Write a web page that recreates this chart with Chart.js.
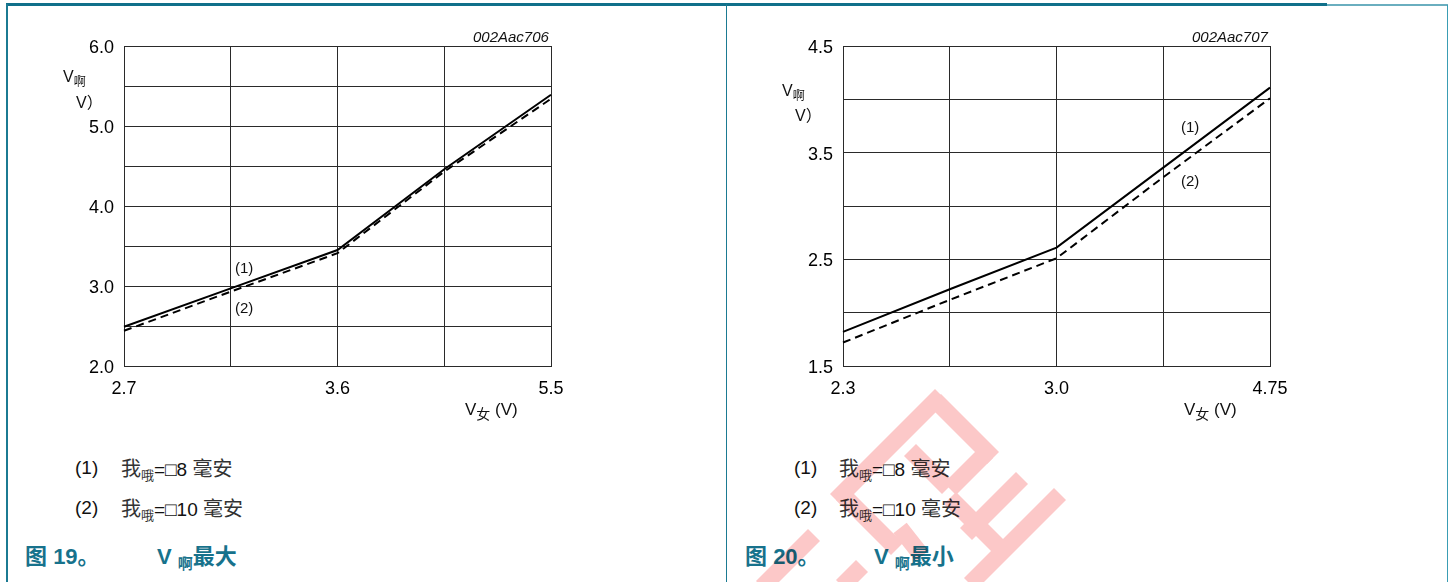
<!DOCTYPE html>
<html>
<head>
<meta charset="utf-8">
<script src="https://cdn.jsdelivr.net/npm/chart.js@4/dist/chart.umd.min.js"></script>
<style>
    html, body { margin: 0; padding: 0; background: #fff; }
    body { width: 1450px; height: 582px; position: relative; overflow: hidden;
           font-family: "Liberation Sans", Arial, "Noto Sans CJK SC", sans-serif; color: #111; }
    .abs { position: absolute; white-space: nowrap; }
    .rule { position: absolute; }
    canvas.chart { position: absolute; top: 0; }
    .code { font-style: italic; font-size: 15px; line-height: 15px; }
    .ttl { font-size: 16px; line-height: 16px; }
    .cjk { font-family: "Noto Sans CJK SC", sans-serif; }
    .sub { font-size: 12px; position: relative; top: 4px; }
    .curve { font-size: 15px; line-height: 15px; }
    .note { font-size: 19px; line-height: 20px; }
    .note .cjk { color: #333; font-size: 20px; }
    .note .cjk.sub { font-size: 13px; }
    .cap { font-size: 22px; line-height: 22px; font-weight: bold; color: #17728c; }
    .cap .sub { font-size: 15px; top: 5px; }
    #mark { position: absolute; left: 0; top: 0; mix-blend-mode: multiply; pointer-events: none; }
</style>
</head>
<body>
<!-- page frame -->
<div class="rule" style="left:6px;top:3px;width:1321px;height:3px;background:#10708a"></div>
<div class="rule" style="left:1327px;top:4px;width:121px;height:2px;background:#6aaebf"></div>
<div class="rule" style="left:6px;top:4px;width:2px;height:578px;background:#1b7a92"></div>
<div class="rule" style="left:726px;top:4px;width:1px;height:578px;background:#1b7a92"></div>
<div class="rule" style="left:1447px;top:5px;width:1px;height:577px;background:#3a9db4"></div>

<canvas id="vMaxChart" class="chart" width="720" height="430" style="left:0px"></canvas>
<canvas id="vMinChart" class="chart" width="720" height="430" style="left:719px"></canvas>

<!-- left figure texts -->
<div class="abs code" style="left:473px;top:29px">002Aac706</div>
<div class="abs ttl" style="left:63px;top:69px">V<span class="cjk sub">啊</span></div>
<div class="abs ttl" style="left:76px;top:93px">V<span class="cjk">）</span></div>
<div class="abs ttl" style="left:465px;top:401px;font-size:17px">V<span class="cjk sub" style="font-size:14px">女</span> (V)</div>
<div class="abs curve" style="left:235px;top:260px">(1)</div>
<div class="abs curve" style="left:235px;top:300px">(2)</div>
<div class="abs note" style="left:75px;top:458px">(1)</div>
<div class="abs note" style="left:121px;top:458px"><span class="cjk">我</span><span class="cjk sub">哦</span>=□8 <span class="cjk">毫安</span></div>
<div class="abs note" style="left:75px;top:498px">(2)</div>
<div class="abs note" style="left:121px;top:498px"><span class="cjk">我</span><span class="cjk sub">哦</span>=□10 <span class="cjk">毫安</span></div>
<div class="abs cap" style="left:25px;top:543px"><span class="cjk">图</span> 19<span class="cjk">。</span></div>
<div class="abs cap" style="left:157px;top:543px">V <span class="cjk sub">啊</span><span class="cjk">最大</span></div>

<!-- right figure texts -->
<div class="abs code" style="left:1192px;top:29px">002Aac707</div>
<div class="abs ttl" style="left:782px;top:83px">V<span class="cjk sub">啊</span></div>
<div class="abs ttl" style="left:795px;top:106px">V<span class="cjk">）</span></div>
<div class="abs ttl" style="left:1184px;top:401px;font-size:17px">V<span class="cjk sub" style="font-size:14px">女</span> (V)</div>
<div class="abs curve" style="left:1181px;top:119px">(1)</div>
<div class="abs curve" style="left:1181px;top:173px">(2)</div>
<div class="abs note" style="left:794px;top:458px">(1)</div>
<div class="abs note" style="left:839px;top:458px"><span class="cjk">我</span><span class="cjk sub">哦</span>=□8 <span class="cjk">毫安</span></div>
<div class="abs note" style="left:794px;top:498px">(2)</div>
<div class="abs note" style="left:839px;top:498px"><span class="cjk">我</span><span class="cjk sub">哦</span>=□10 <span class="cjk">毫安</span></div>
<div class="abs cap" style="left:745px;top:543px"><span class="cjk">图</span> 20<span class="cjk">。</span></div>
<div class="abs cap" style="left:874px;top:543px">V <span class="cjk sub">啊</span><span class="cjk">最小</span></div>

<canvas id="mark" width="1450" height="582"></canvas>

<script>
    // fig 19: V max against V supply
    var maxXLabels = ['2.7', '', '3.6', '', '5.5'];
    var maxYLabels = ['2.0', '3.0', '4.0', '5.0', '6.0'];
    var maxYMin = 2.0;
    var maxYMax = 6.0;
    var vMax8mA = [2.49, 2.97, 3.45, 4.46, 5.39];
    var vMax10mA = [2.44, 2.93, 3.41, 4.43, 5.34];

    // fig 20: V min against V supply
    var minXLabels = ['2.3', '', '3.0', '', '4.75'];
    var minYLabels = ['1.5', '2.5', '3.5', '4.5'];
    var minYMin = 1.5;
    var minYMax = 4.5;
    var vMin8mA = [1.82, 2.22, 2.61, 3.36, 4.11];
    var vMin10mA = [1.72, 2.12, 2.51, 3.27, 4.01];

    var gridColor = '#2a2a2a';
    var tickFont = '18px "Liberation Sans", Arial, sans-serif';

    // draws the tick numbers at the positions the scales give
    var tickLabelPlugin = {
        id: 'tickLabels',
        afterDraw: function (chart) {
            var ctx = chart.ctx;
            var xs = chart.scales.x;
            var ys = chart.scales.y;
            var opts = chart.options.plugins.tickLabels;
            ctx.save();
            ctx.fillStyle = '#000';
            ctx.font = tickFont;
            ctx.textAlign = 'right';
            ctx.textBaseline = 'middle';
            opts.yLabels.forEach(function (t) {
                ctx.fillText(t, xs.left - 10, ys.getPixelForValue(parseFloat(t)) + 2);
            });
            ctx.textAlign = 'center';
            ctx.textBaseline = 'top';
            opts.xLabels.forEach(function (t, i) {
                if (t) ctx.fillText(t, xs.getPixelForValue(i), ys.bottom + 14);
            });
            ctx.restore();
        }
    };

    function makeChart(id, xLabels, yLabels, yMin, yMax, line1, line2) {
        var ctx = document.getElementById(id).getContext('2d');
        return new Chart(ctx, {
            type: 'line',
            data: {
                labels: xLabels,
                datasets: [{
                    data: line1,
                    borderColor: '#000',
                    borderWidth: 2,
                    pointRadius: 0,
                    fill: false,
                    tension: 0
                }, {
                    data: line2,
                    borderColor: '#000',
                    borderWidth: 2,
                    borderDash: [8, 5],
                    pointRadius: 0,
                    fill: false,
                    tension: 0
                }]
            },
            options: {
                responsive: false,
                animation: false,
                events: [],
                layout: { padding: { top: 46, right: 169, left: 0, bottom: 0 } },
                plugins: {
                    legend: { display: false },
                    tooltip: { enabled: false },
                    tickLabels: { xLabels: xLabels, yLabels: yLabels }
                },
                scales: {
                    x: {
                        type: 'category',
                        offset: false,
                        grid: { color: gridColor, lineWidth: 1, drawTicks: false },
                        border: { color: gridColor, width: 1 },
                        ticks: { display: false },
                        afterFit: function (s) { s.height = 64; }
                    },
                    y: {
                        type: 'linear',
                        min: yMin,
                        max: yMax,
                        grid: { color: gridColor, lineWidth: 1, drawTicks: false },
                        border: { color: gridColor, width: 1 },
                        ticks: { display: false, stepSize: 0.5 },
                        afterFit: function (s) { s.width = 124; }
                    }
                }
            },
            plugins: [tickLabelPlugin]
        });
    }

    makeChart('vMaxChart', maxXLabels, maxYLabels, maxYMin, maxYMax, vMax8mA, vMax10mA);
    makeChart('vMinChart', minXLabels, minYLabels, minYMin, minYMax, vMin8mA, vMin10mA);

    // pale red stamp in the lower middle of the page
    (function () {
        var c = document.getElementById('mark').getContext('2d');
        c.strokeStyle = '#fcc8c8';
        c.lineWidth = 17;
        c.lineCap = 'butt';
        var strokes = [
            [[935, 400], [993, 458]],
            [[941, 395], [836, 500]],
            [[842, 494], [897, 549]],
            [[987, 452], [950, 489]],
            [[910, 450], [948, 488]],
            [[1022, 478], [966, 534]],
            [[1060, 494], [970, 584]],
            [[950, 498], [998, 546]],
            [[814, 535], [762, 587]],
            [[862, 566], [842, 586]],
            [[900, 528], [922, 556]]
        ];
        strokes.forEach(function (s) {
            c.beginPath();
            c.moveTo(s[0][0], s[0][1]);
            c.lineTo(s[1][0], s[1][1]);
            c.stroke();
        });
    })();
</script>
</body>
</html>
